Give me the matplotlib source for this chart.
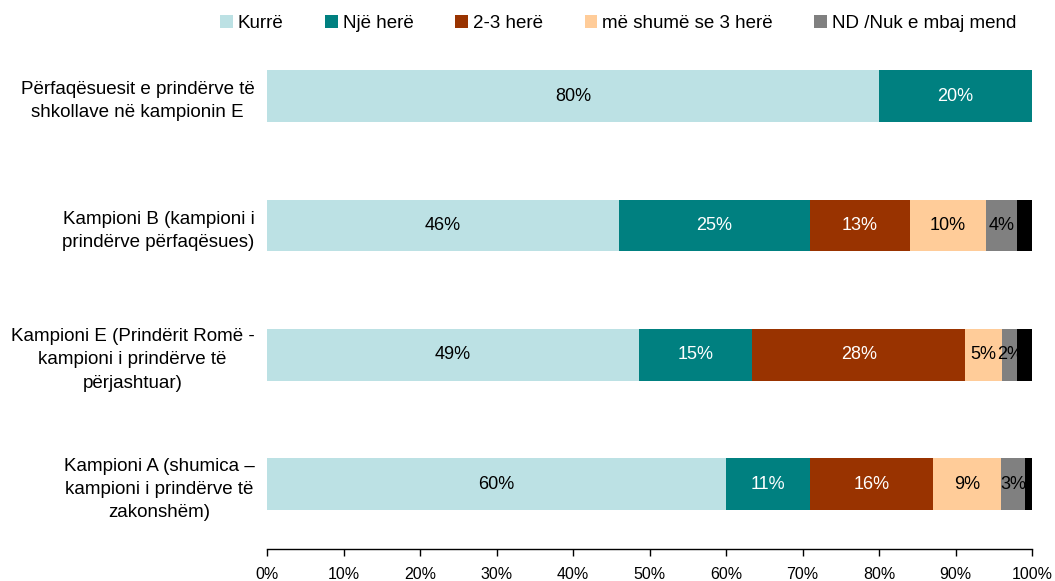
import numpy as np
import matplotlib.pyplot as plt

plt.rcParams['font.family'] = ['Liberation Sans', 'DejaVu Sans']

categories = [
    'Përfaqësuesit e prindërve të\nshkollave në kampionin E',
    'Kampioni B (kampioni i\nprindërve përfaqësues)',
    'Kampioni E (Prindërit Romë -\nkampioni i prindërve të\npërjashtuar)',
    'Kampioni A (shumica –\nkampioni i prindërve të\nzakonshëm)',
]
series_names = ['Kurrë', 'Një herë', '2-3 herë', 'më shumë se 3 herë',
                'ND /Nuk e mbaj mend', '']
kurre = [80.0, 46.0, 48.6, 60.0]
nje_here = [20.0, 25.0, 14.8, 11.0]
dy_tre = [0.0, 13.0, 27.9, 16.1]
me_shume = [0.0, 10.0, 4.8, 8.9]
nd = [0.0, 4.0, 2.0, 3.1]
tjeter = [0.0, 2.0, 1.9, 0.9]

colors = ['#BCE1E4', '#008080', '#993300', '#FFCC99', '#808080', '#000000']
text_colors = ['black', 'white', 'white', 'black', 'black', None]

data = [kurre, nje_here, dy_tre, me_shume, nd, tjeter]

fig = plt.figure(figsize=(10.55, 5.81), dpi=100)
ax = fig.add_axes([0.2531, 0.0551, 0.7251, 0.8907])

y = np.arange(len(categories))
left = np.zeros(len(categories))
for i, vals in enumerate(data):
    vals = np.array(vals)
    lab = series_names[i] if series_names[i] else '_nolegend_'
    ax.barh(y, vals, left=left, height=0.4, color=colors[i], label=lab)
    if text_colors[i] is not None:
        for j, v in enumerate(vals):
            if v > 0:
                ax.text(left[j] + v / 2, y[j], f'{v:.0f}%', ha='center', va='center',
                        color=text_colors[i], fontsize=13)
    left += vals

ax.set_xlim(0, 100)
ax.set_ylim(len(categories) - 0.5, -0.5)
ax.set_xticks(np.arange(0, 101, 10))
ax.set_xticklabels([f'{t}%' for t in range(0, 101, 10)], fontsize=11.5)
ax.set_yticks(y)
ax.set_yticklabels(categories, fontsize=13.5, ma='center', linespacing=1.47)
ax.tick_params(axis='y', length=0, pad=9)
ax.tick_params(axis='x', length=5, width=1, direction='out', pad=8)
for s in ['top', 'right', 'left']:
    ax.spines[s].set_visible(False)
ax.spines['bottom'].set_linewidth(1)

fig.legend(loc='center', bbox_to_anchor=(0.586, 0.959), ncol=5, frameon=False,
           fontsize=13.5, handlelength=0.65, handleheight=0.65, handletextpad=0.27,
           columnspacing=2.24)

fig.savefig('out.png', dpi=100)
